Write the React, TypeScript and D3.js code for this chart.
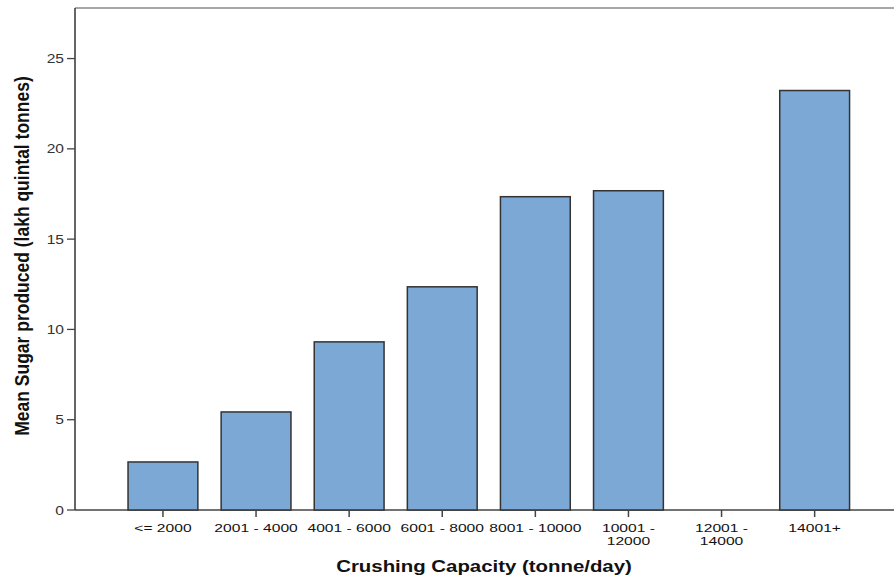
import React from "react";
import * as d3 from "d3";

const categories: string[] = [
  "<= 2000",
  "2001 - 4000",
  "4001 - 6000",
  "6001 - 8000",
  "8001 - 10000",
  "10001 - 12000",
  "12001 - 14000",
  "14001+",
];
// label lines as drawn under the axis
const categoryLines: string[][] = [
  ["<= 2000"],
  ["2001 - 4000"],
  ["4001 - 6000"],
  ["6001 - 8000"],
  ["8001 - 10000"],
  ["10001 -", "12000"],
  ["12001 -", "14000"],
  ["14001+"],
];
const meanSugar: (number | null)[] = [2.66, 5.43, 9.31, 12.36, 17.35, 17.68, null, 23.23];
const yTicks: number[] = [0, 5, 10, 15, 20, 25];
const yTitle = "Mean Sugar produced (lakh quintal tonnes)";
const xTitle = "Crushing Capacity (tonne/day)";

const W = 894;
const H = 578;
const SX = 1.2; // horizontal stretch of the original picture
const FONT = "'Liberation Sans', Arial, Helvetica, sans-serif";

export default function App() {
  const left = 75;
  const top = 8;
  const bottom = 510;
  const y = d3.scaleLinear().domain([0, 27.8]).range([bottom, top]);
  const x = d3
    .scaleBand<string>()
    .domain(categories)
    .range([116.4, 861.2])
    .paddingInner(0.25)
    .paddingOuter(0.125);

  return (
    <div style={{ position: "fixed", left: 0, top: 0 }}>
      <svg width={W} height={H} style={{ display: "block", background: "#fff" }}>
        {/* frame */}
        <line x1={left} x2={W} y1={top} y2={top} stroke="#8a8a8a" strokeWidth={1.5} />
        <line x1={left} x2={W} y1={bottom} y2={bottom} stroke="#444" strokeWidth={1.5} />
        <line x1={left} x2={left} y1={top} y2={bottom} stroke="#333" strokeWidth={1.5} />

        {/* bars */}
        {categories.map((c, i) => {
          const v = meanSugar[i];
          if (v == null) return null;
          const x0 = x(c) as number;
          return (
            <rect
              key={c}
              x={x0}
              y={y(v)}
              width={x.bandwidth()}
              height={bottom - y(v)}
              fill="#7ba8d5"
              stroke="#333"
              strokeWidth={1.5}
            />
          );
        })}

        {/* y ticks */}
        {yTicks.map((t) => (
          <g key={t}>
            <line x1={left - 8} x2={left} y1={y(t)} y2={y(t)} stroke="#444" strokeWidth={1.3} />
            <text
              transform={`translate(${left - 11},${y(t) + 4.5}) scale(${SX},1)`}
              textAnchor="end"
              fontFamily={FONT}
              fontSize={13}
              fill="#333"
            >
              {t}
            </text>
          </g>
        ))}

        {/* x ticks */}
        {categories.map((c, i) => {
          const cx = (x(c) as number) + x.bandwidth() / 2;
          return (
            <g key={c}>
              <line x1={cx} x2={cx} y1={bottom} y2={bottom + 7} stroke="#444" strokeWidth={1.5} />
              {categoryLines[i].map((ln, j) => (
                <text
                  key={j}
                  transform={`translate(${cx},${bottom + 21.5 + j * 13.5}) scale(1.36,1)`}
                  textAnchor="middle"
                  fontFamily={FONT}
                  fontSize={11.5}
                  fill="#111"
                >
                  {ln}
                </text>
              ))}
            </g>
          );
        })}

        {/* axis titles */}
        <text
          transform={`translate(484,572) scale(${SX},1)`}
          textAnchor="middle"
          fontFamily={FONT}
          fontWeight="bold"
          fontSize={17}
          fill="#111"
        >
          {xTitle}
        </text>
        <text
          transform={`translate(29,256) scale(${SX},1) rotate(-90)`}
          textAnchor="middle"
          fontFamily={FONT}
          fontWeight="bold"
          fontSize={17.5}
          fill="#111"
        >
          {yTitle}
        </text>
      </svg>
    </div>
  );
}
